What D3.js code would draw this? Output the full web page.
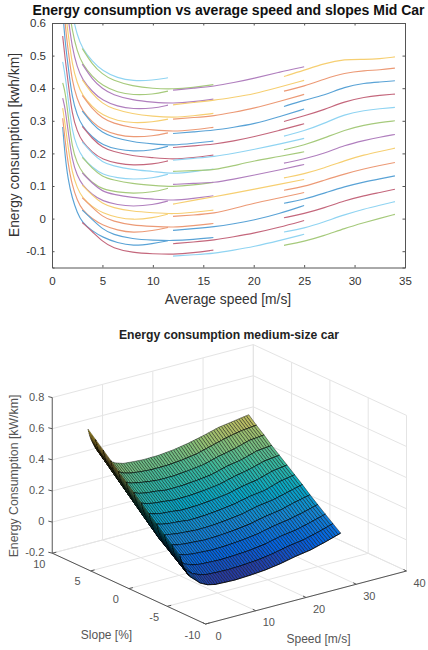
<!DOCTYPE html>
<html>
<head>
<meta charset="utf-8">
<style>
  body { margin: 0; background: #fff; }
  text { font-family: "Liberation Sans", Arial, sans-serif; }
</style>
<script src="https://cdn.jsdelivr.net/npm/d3@7/dist/d3.min.js"></script>
</head>
<body>
<svg id="chart" width="428" height="650"></svg>
<script>
// top chart: four speed bands, 13 slopes each. inner lists go from lowest to highest curve
var lowSpeeds = [1.06, 1.3, 1.6, 2, 2.5, 3, 4, 5, 6.5, 8, 10, 11.5];
var lowValues = [
  [.281, .308, .339, .3695, .4166, .481, .56, .64, .72, .8, .88, .96, 1.04],
  [.19, .24, .29, .34, .39, .44, .49, .54, .59, .64, .69, .74, .79],
  [.118, .168, .218, .268, .318, .368, .418, .468, .518, .568, .618, .668, .718],
  [.063, .101, .139, .177, .215, .265, .317, .368, .42, .471, .523, .574, .627],
  [.018, .056, .094, .132, .17, .219, .268, .317, .366, .415, .464, .513, .562],
  [-.012, .026, .064, .103, .14, .188, .235, .283, .33, .378, .426, .474, .522],
  [-.038, -.001, .036, .073, .11, .1565, .203, .2495, .296, .3425, .389, .4355, .482],
  [-.057, -.02, .017, .054, .09, .135, .181, .226, .272, .317, .362, .408, .453],
  [-.075, -.036, .003, .042, .081, .125, .169, .212, .256, .3, .344, .387, .431],
  [-.084, -.044, -.004, .037, .077, .12, .163, .206, .25, .293, .336, .379, .422],
  [-.077, -.037, .002, .042, .081, .124, .167, .21, .253, .296, .338, .381, .424],
  [-.068, -.027, .014, .054, .093, .136, .177, .222, .263, .305, .348, .391, .432]
];

var midSpeeds = [3, 4, 5, 6, 8, 10, 12, 14, 16];
var midValues = [
  [-.012, .026, .064, .103, .14, .188, .235, .283, .33, .378, .426, .474, .522],
  [-.04, -.003, .034, .071, .108, .1535, .199, .2445, .29, .3355, .381, .4265, .472],
  [-.07, -.032, .006, .045, .083, .128, .173, .218, .263, .308, .353, .398, .443],
  [-.09, -.049, -.008, .034, .075, .119, .162, .206, .25, .293, .337, .38, .424],
  [-.105, -.063, -.021, .022, .064, .107, .15, .192, .235, .278, .321, .363, .406],
  [-.108, -.066, -.024, .018, .06, .102, .145, .187, .229, .272, .314, .357, .399],
  [-.11, -.068, -.027, .014, .055, .097, .137, .1815, .2245, .267, .31, .353, .397],
  [-.105, -.064, -.022, .019, .062, .103, .144, .187, .231, .272, .315, .358, .402],
  [-.0966, -.058, -.015, .026, .07, .111, .152, .1948, .2377, .28, .3226, .3666, .411]
];

var highSpeeds = [12, 14, 16.1, 18, 20, 22.5, 25];
var highValues = [
  [-.115, -.077, -.036, .0067, .0445, .105, .145, .179, .218, .261, .305, .349, .394],
  [-.111, -.072, -.031, .011, .056, .108, .147, .185, .223, .266, .31, .356, .4],
  [-.107, -.066, -.025, .016, .067, .11, .149, .19, .228, .271, .315, .363, .406],
  [-.097, -.056, -.016, .031, .078, .121, .162, .2, .238, .28, .326, .372, .417],
  [-.086, -.045, -.005, .047, .09, .133, .177, .212, .251, .29, .338, .382, .43],
  [-.068, -.027, .015, .063, .105, .149, .19, .228, .27, .312, .359, .403, .449],
  [-.048, -.006, .04, .08, .12, .166, .205, .246, .291, .336, .381, .424, .4657]
];

var topSpeeds = [23, 25, 27, 29, 31, 32.5, 34];
var topValues = [
  [-.082, -.041, .0025, .047, .087, .125, .17, .211, .253, .298, .344, .391, .436],
  [-.07, -.03, .015, .059, .098, .137, .183, .2255, .269, .315, .3635, .406, .455],
  [-.052, -.01, .033, .078, .118, .155, .2, .247, .292, .334, .378, .428, .476],
  [-.03, .012, .055, .098, .137, .178, .225, .272, .32, .359, .404, .447, .489],
  [-.012, .03, .071, .113, .153, .196, .24, .287, .332, .373, .416, .454, .488],
  [.001, .041, .08, .122, .163, .206, .25, .295, .337, .378, .419, .456, .49],
  [.013, .052, .09, .131, .172, .216, .258, .3, .341, .382, .4227, .4616, .496]
];

var lineColors = ['#5aa3d6', '#ec9a76', '#f6cf72', '#b07fbe', '#a6ca7c', '#90d4f2', '#c4677c'];
var xTicks = [0, 5, 10, 15, 20, 25, 30, 35];
var yTicks = [-.1, 0, .1, .2, .3, .4, .5, .6];

// bottom chart: surface, inner lists go from slope -6 to slope 6
var surfaceSlopes = [-6, -5, -4, -3, -2, -1, 0, 1, 2, 3, 4, 5, 6];
var surfaceSpeeds = [1, 1.3, 1.6, 2, 2.5, 3, 4, 5, 6.5, 8, 10, 12, 15, 18, 21, 24, 27, 30, 33];
var surfaceValues = [
  [.137, .182, .228, .273, .318, .364, .409, .454, .499, .545, .59, .635, .68],
  [.1, .145, .19, .236, .28, .326, .371, .416, .461, .507, .552, .597, .64],
  [.07, .115, .16, .205, .25, .295, .34, .385, .43, .475, .52, .565, .61],
  [.04, .082, .125, .168, .21, .258, .305, .352, .4, .447, .495, .54, .58],
  [.01, .05, .09, .13, .17, .215, .262, .31, .358, .405, .452, .5, .545],
  [-.012, .026, .064, .103, .14, .188, .235, .283, .33, .378, .426, .474, .522],
  [-.04, -.003, .034, .071, .108, .1535, .199, .2445, .29, .3355, .381, .4265, .472],
  [-.07, -.032, .006, .045, .083, .128, .173, .218, .263, .308, .353, .398, .443],
  [-.094, -.053, -.012, .03, .071, .115, .158, .202, .245, .288, .331, .373, .416],
  [-.105, -.063, -.021, .022, .064, .107, .15, .192, .235, .278, .321, .36, .4],
  [-.108, -.066, -.024, .018, .06, .102, .145, .187, .229, .272, .311, .352, .394],
  [-.11, -.068, -.027, .014, .055, .097, .137, .179, .221, .262, .304, .347, .39],
  [-.105, -.064, -.023, .018, .059, .1, .141, .182, .223, .264, .305, .348, .392],
  [-.097, -.056, -.016, .027, .068, .11, .151, .191, .231, .272, .314, .356, .402],
  [-.082, -.041, -.002, .04, .081, .123, .165, .204, .244, .285, .327, .371, .42],
  [-.061, -.02, .021, .062, .103, .146, .187, .228, .27, .312, .355, .398, .443],
  [-.045, -.005, .035, .078, .118, .16, .2, .245, .29, .33, .375, .425, .47],
  [-.018, .02, .06, .1, .145, .185, .232, .275, .318, .36, .405, .445, .485],
  [.012, .05, .088, .127, .167, .21, .25, .29, .33, .37, .415, .455, .5]
];

var parulaStops = ['#352a87', '#0363e1', '#1485d4', '#06a7c6', '#38b99e', '#92bf73', '#d9ba56', '#fcce2e', '#f9fb0e'];
var speedTicks = [0, 10, 20, 30, 40];
var slopeTicks = [-10, -5, 0, 5, 10];
var energyTicks = [-.2, 0, .2, .4, .6, .8];

var svg = d3.select('#chart');

// ---- top chart ----
var x = d3.scaleLinear().domain([0, 35]).range([52, 405]);
var y = d3.scaleLinear().domain([-.15, .6]).range([267.5, 23]);

svg.append('defs').append('clipPath').attr('id', 'plotClip')
  .append('rect')
  .attr('x', x(0)).attr('y', y(.6))
  .attr('width', x(35) - x(0)).attr('height', y(-.15) - y(.6));

var line = d3.line()
  .x(function(d){ return x(d[0]); })
  .y(function(d){ return y(d[1]); })
  .curve(d3.curveBasis);

function drawBand(speeds, values, colorOffset){
  surfaceSlopes.forEach(function(slope, j){
    svg.append('path')
      .attr('clip-path', 'url(#plotClip)')
      .attr('fill', 'none')
      .attr('stroke', lineColors[(j + colorOffset) % 7])
      .attr('stroke-width', 1.15)
      .attr('d', line(speeds.map(function(s, i){ return [s, values[i][j]]; })));
  });
}

drawBand(lowSpeeds, lowValues, 0);
drawBand(midSpeeds, midValues, 6);
drawBand(highSpeeds, highValues, 5);
drawBand(topSpeeds, topValues, 4);

function styleAxis(g){
  g.selectAll('path').attr('stroke', '#555').attr('stroke-width', 1);
  g.selectAll('line').attr('stroke', '#555');
  g.selectAll('text').attr('fill', '#333').style('font-size', '11.5px');
}

svg.append('g').attr('transform', 'translate(0,' + y(-.15) + ')')
  .call(d3.axisBottom(x).tickValues(xTicks).tickSize(-2.5).tickPadding(9).tickFormat(String))
  .call(styleAxis);
svg.append('g').attr('transform', 'translate(0,' + y(.6) + ')')
  .call(d3.axisTop(x).tickValues(xTicks).tickSize(-2.5).tickFormat(''))
  .call(styleAxis);
svg.append('g').attr('transform', 'translate(' + x(0) + ',0)')
  .call(d3.axisLeft(y).tickValues(yTicks).tickSize(-2.5).tickPadding(6).tickFormat(String))
  .call(styleAxis);
svg.append('g').attr('transform', 'translate(' + x(35) + ',0)')
  .call(d3.axisRight(y).tickValues(yTicks).tickSize(-2.5).tickFormat(''))
  .call(styleAxis);

svg.append('text')
  .attr('x', 228.5).attr('y', 15)
  .attr('text-anchor', 'middle')
  .attr('fill', '#111')
  .style('font-size', '14px').style('font-weight', 'bold')
  .text('Energy consumption vs average speed and slopes Mid Car');
svg.append('text')
  .attr('x', 228).attr('y', 304)
  .attr('text-anchor', 'middle')
  .attr('fill', '#333')
  .style('font-size', '13.8px')
  .text('Average speed [m/s]');
svg.append('text')
  .attr('transform', 'translate(19,145) rotate(-90)')
  .attr('text-anchor', 'middle')
  .attr('fill', '#333')
  .style('font-size', '13.8px')
  .text('Energy consumption [kwh/km]');

// ---- bottom chart ----
// the 3d box is a fixed orthographic view, so each data axis gets its own screen scales
var speedX = d3.scaleLinear().domain([0, 40]).range([0, 201]);
var speedY = d3.scaleLinear().domain([0, 40]).range([0, -53]);
var slopeX = d3.scaleLinear().domain([-10, 10]).range([205.5, 52.3]);
var slopeY = d3.scaleLinear().domain([-10, 10]).range([624, 553.2]);
var energyY = d3.scaleLinear().domain([-.2, .8]).range([0, -155.6]);

function project(speed, slope, energy){
  return [slopeX(slope) + speedX(speed), slopeY(slope) + speedY(speed) + energyY(energy)];
}

var color = d3.scaleLinear()
  .domain(d3.range(9).map(function(i){ return -.12 + i * .855 / 8; }))
  .range(parulaStops)
  .clamp(true);

function drawSegment(a, b, stroke, width){
  svg.append('line')
    .attr('x1', a[0]).attr('y1', a[1])
    .attr('x2', b[0]).attr('y2', b[1])
    .attr('stroke', stroke)
    .attr('stroke-width', width);
}

var gridColor = '#e4e4e4';
energyTicks.forEach(function(e){
  drawSegment(project(0, 10, e), project(40, 10, e), gridColor, 1);
  drawSegment(project(40, 10, e), project(40, -10, e), gridColor, 1);
});
speedTicks.forEach(function(s){
  drawSegment(project(s, 10, -.2), project(s, 10, .8), gridColor, 1);
  drawSegment(project(s, 10, -.2), project(s, -10, -.2), gridColor, 1);
});
slopeTicks.forEach(function(sl){
  drawSegment(project(40, sl, -.2), project(40, sl, .8), gridColor, 1);
  drawSegment(project(0, sl, -.2), project(40, sl, -.2), gridColor, 1);
});

// axis lines
drawSegment(project(0, 10, -.2), project(0, 10, .8), '#777', 1.2);
drawSegment(project(0, 10, -.2), project(0, -10, -.2), '#555', 1);
drawSegment(project(0, -10, -.2), project(40, -10, -.2), '#555', 1);

energyTicks.forEach(function(e){
  var p = project(0, 10, e);
  drawSegment([p[0] - 4, p[1] - 1], p, '#555', 1);
  svg.append('text')
    .attr('x', p[0] - 8).attr('y', p[1] + 3)
    .attr('text-anchor', 'end').attr('fill', '#555')
    .style('font-size', '11px')
    .text(String(e));
});
slopeTicks.forEach(function(sl){
  var p = project(0, sl, -.2);
  drawSegment(p, [p[0] + 4, p[1] - 1], '#555', 1);
  svg.append('text')
    .attr('x', p[0] - 13).attr('y', p[1] + 14.5)
    .attr('text-anchor', 'middle').attr('fill', '#555')
    .style('font-size', '11px')
    .text(String(sl));
});
speedTicks.forEach(function(s){
  var p = project(s, -10, -.2);
  drawSegment(p, [p[0] - 3, p[1] - 1.5], '#555', 1);
  svg.append('text')
    .attr('x', p[0] + 13).attr('y', p[1] + 15.5)
    .attr('text-anchor', 'middle').attr('fill', '#555')
    .style('font-size', '11px')
    .text(String(s));
});

// one scale per slope so the mesh can be denser than the read values
var rowScales = surfaceSlopes.map(function(slope, j){
  return d3.scaleLinear()
    .domain(surfaceSpeeds)
    .range(surfaceValues.map(function(col){ return col[j]; }));
});
// finer at low speed, that is where the real mesh closes up to black
var meshSpeeds = d3.range(1, 3, .1).concat(d3.range(3, 33.01, .5));

// painter's order: far slope first, far speed first
for (var j = surfaceSlopes.length - 2; j >= 0; j--) {
  for (var i = meshSpeeds.length - 2; i >= 0; i--) {
    var s0 = meshSpeeds[i], s1 = meshSpeeds[i + 1];
    var corners = [
      project(s0, surfaceSlopes[j], rowScales[j](s0)),
      project(s1, surfaceSlopes[j], rowScales[j](s1)),
      project(s1, surfaceSlopes[j + 1], rowScales[j + 1](s1)),
      project(s0, surfaceSlopes[j + 1], rowScales[j + 1](s0))
    ];
    svg.append('path')
      .attr('d', 'M' + corners.join('L') + 'Z')
      .attr('fill', color((rowScales[j](s0) + rowScales[j + 1](s1)) / 2))
      .attr('stroke', '#000')
      .attr('stroke-width', .5)
      .attr('stroke-opacity', .85);
  }
  // the constant slope line shows darker than the dense speed lines
  svg.append('path')
    .attr('fill', 'none')
    .attr('stroke', '#000')
    .attr('stroke-width', .8)
    .attr('d', d3.line()(meshSpeeds.map(function(s){ return project(s, surfaceSlopes[j], rowScales[j](s)); })));
}

svg.append('text')
  .attr('x', 229).attr('y', 339)
  .attr('text-anchor', 'middle').attr('fill', '#222')
  .style('font-size', '12.2px').style('font-weight', 'bold')
  .text('Energy consumption medium-size car');
svg.append('text')
  .attr('x', 106.5).attr('y', 639)
  .attr('text-anchor', 'middle').attr('fill', '#555')
  .style('font-size', '12px')
  .text('Slope [%]');
svg.append('text')
  .attr('x', 318.5).attr('y', 643)
  .attr('text-anchor', 'middle').attr('fill', '#555')
  .style('font-size', '12px')
  .text('Speed [m/s]');
svg.append('text')
  .attr('transform', 'translate(18,476) rotate(-90)')
  .attr('text-anchor', 'middle').attr('fill', '#555')
  .style('font-size', '12.3px')
  .text('Energy Consumption [kW/km]');
</script>
</body>
</html>
